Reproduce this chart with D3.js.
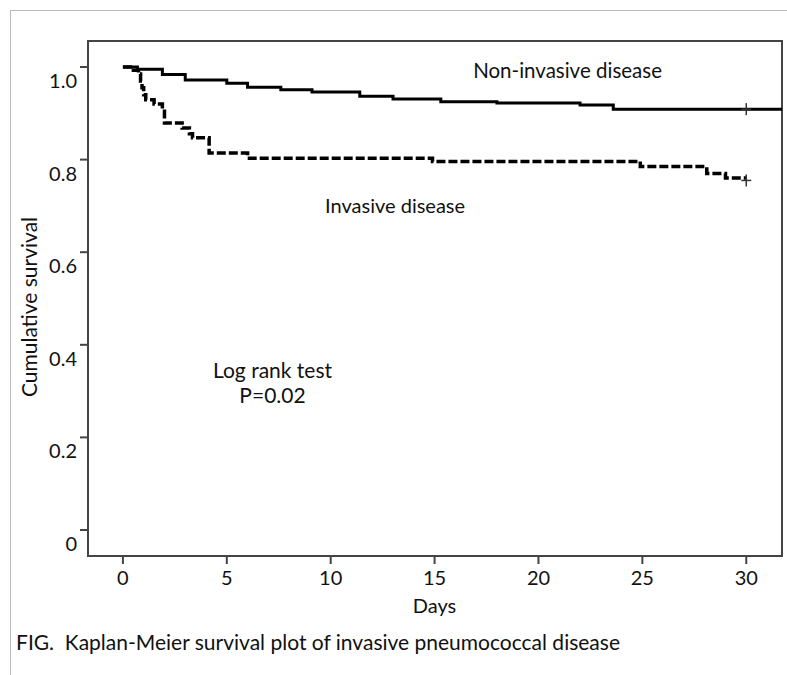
<!DOCTYPE html>
<html>
<head>
<meta charset="utf-8">
<script src="https://cdn.jsdelivr.net/npm/d3@7"></script>
<style>
  body { margin: 0; background: #fff; }
  svg text { font-family: Lato, "Open Sans", sans-serif; fill: #111; }
</style>
</head>
<body>
<svg id="chart" width="787" height="675"></svg>
<script>
// step points [day, survival after the step]
var nonInvasive = [
  [0, 1.0], [0.7, 0.995], [1.9, 0.984], [3.0, 0.972], [5.0, 0.965],
  [6.0, 0.956], [7.6, 0.951], [9.1, 0.946], [11.4, 0.937], [13.0, 0.931],
  [15.3, 0.925], [18.0, 0.922], [22.0, 0.918], [23.6, 0.909]
];
var invasive = [
  [0, 1.0], [0.35, 0.993], [0.75, 0.985], [0.85, 0.97], [0.92, 0.955],
  [1.0, 0.94], [1.1, 0.929], [1.5, 0.92], [1.9, 0.91], [2.0, 0.879],
  [2.85, 0.868], [3.2, 0.856], [3.35, 0.847], [4.15, 0.814], [6.0, 0.803],
  [14.9, 0.796], [24.9, 0.785], [28.1, 0.770], [29.0, 0.760], [30, 0.760]
];
var censorDay = 30;
var xTicks = [0, 5, 10, 15, 20, 25, 30];
var yTicks = [0, 0.2, 0.4, 0.6, 0.8, 1.0];
var yTickLabels = ["0", "0.2", "0.4", "0.6", "0.8", "1.0"];

var svg = d3.select("#chart");

// outer frame (grey, only top and left visible)
svg.append("line").attr("x1", 10).attr("y1", 10.5).attr("x2", 787).attr("y2", 10.5)
  .attr("stroke", "#bbb").attr("stroke-width", 1);
svg.append("line").attr("x1", 10.5).attr("y1", 10).attr("x2", 10.5).attr("y2", 675)
  .attr("stroke", "#bbb").attr("stroke-width", 1);

var box = { left: 88, top: 41, right: 782, bottom: 556 };

var x = d3.scaleLinear().domain([-1.68, 31.72]).range([box.left, box.right]);
var y = d3.scaleLinear().domain([0, 1]).range([530, 67]);

// plot box
svg.append("rect")
  .attr("x", box.left).attr("y", box.top)
  .attr("width", box.right - box.left).attr("height", box.bottom - box.top)
  .attr("fill", "none").attr("stroke", "#444").attr("stroke-width", 2);

// y axis ticks + labels (labels sit a bit below the tick)
var yg = svg.append("g");
yg.selectAll("line").data(yTicks).enter().append("line")
  .attr("x1", 80).attr("x2", box.left)
  .attr("y1", function(d) { return y(d); }).attr("y2", function(d) { return y(d); })
  .attr("stroke", "#444").attr("stroke-width", 2);
yg.selectAll("text").data(yTicks).enter().append("text")
  .attr("x", 77).attr("y", function(d) { return y(d) + 21; })
  .attr("text-anchor", "end").attr("font-size", 20)
  .text(function(d, i) { return yTickLabels[i]; });

// x axis ticks + labels
var xg = svg.append("g");
xg.selectAll("line").data(xTicks).enter().append("line")
  .attr("x1", function(d) { return x(d); }).attr("x2", function(d) { return x(d); })
  .attr("y1", box.bottom).attr("y2", box.bottom + 8)
  .attr("stroke", "#444").attr("stroke-width", 2);
xg.selectAll("text").data(xTicks).enter().append("text")
  .attr("x", function(d) { return x(d); }).attr("y", 585)
  .attr("text-anchor", "middle").attr("font-size", 20)
  .text(function(d) { return d; });

svg.append("text").attr("x", x(15)).attr("y", 613)
  .attr("text-anchor", "middle").attr("font-size", 20).text("Days");

svg.append("text")
  .attr("transform", "translate(37,307) rotate(-90)")
  .attr("text-anchor", "middle").attr("font-size", 21).text("Cumulative survival");

// curves
var line = d3.line()
  .x(function(d) { return x(d[0]); })
  .y(function(d) { return y(d[1]); })
  .curve(d3.curveStepAfter);

var nonInvData = nonInvasive.concat([[x.domain()[1], nonInvasive[nonInvasive.length - 1][1]]]);

svg.append("path").datum(nonInvData)
  .attr("d", line).attr("fill", "none")
  .attr("stroke", "#000").attr("stroke-width", 3);

svg.append("path").datum(invasive)
  .attr("d", line).attr("fill", "none")
  .attr("stroke", "#000").attr("stroke-width", 3.5)
  .attr("stroke-dasharray", "9,3");

// censor marks
function censor(day, s) {
  var cx = x(day), cy = y(s);
  svg.append("line").attr("x1", cx).attr("x2", cx).attr("y1", cy - 6).attr("y2", cy + 6)
    .attr("stroke", "#333").attr("stroke-width", 1.5);
  svg.append("line").attr("x1", cx - 5).attr("x2", cx + 5).attr("y1", cy).attr("y2", cy)
    .attr("stroke", "#333").attr("stroke-width", 1.5);
}
censor(censorDay, nonInvasive[nonInvasive.length - 1][1]);
censor(censorDay, invasive[invasive.length - 1][1] - 0.005);

// annotations
svg.append("text").attr("x", x(21.4)).attr("y", y(0.976))
  .attr("text-anchor", "middle").attr("font-size", 20.5).text("Non-invasive disease");
svg.append("text").attr("x", x(13.1)).attr("y", y(0.685))
  .attr("text-anchor", "middle").attr("font-size", 20).text("Invasive disease");
svg.append("text").attr("x", x(7.2)).attr("y", y(0.328))
  .attr("text-anchor", "middle").attr("font-size", 21).text("Log rank test");
svg.append("text").attr("x", x(7.2)).attr("y", y(0.274))
  .attr("text-anchor", "middle").attr("font-size", 21).text("P=0.02");

// caption
svg.append("text").attr("x", 16).attr("y", 650)
  .attr("font-size", 21).style("white-space", "pre")
  .text("FIG.  Kaplan-Meier survival plot of invasive pneumococcal disease");
</script>
</body>
</html>
